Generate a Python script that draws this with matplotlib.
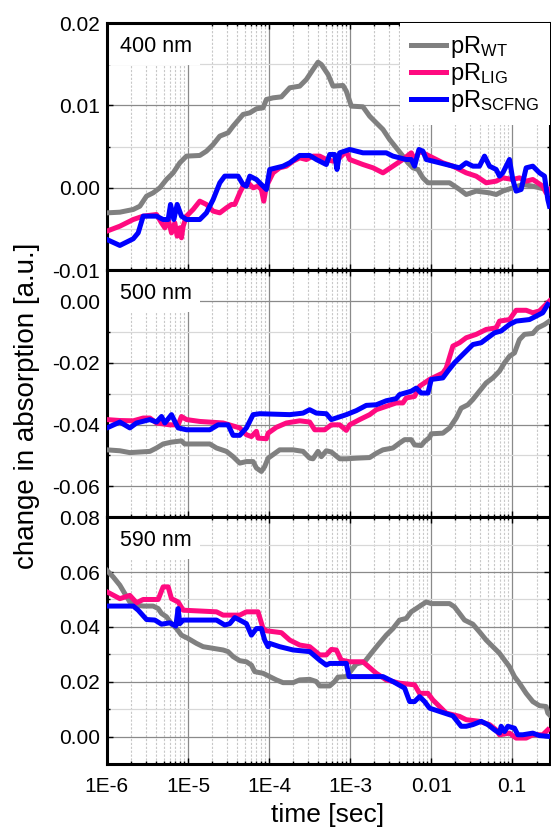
import numpy as np
import matplotlib
matplotlib.use('Agg')
import matplotlib.pyplot as plt
from matplotlib.ticker import FixedLocator, FixedFormatter, MultipleLocator, FormatStrFormatter
from matplotlib.patches import Rectangle

plt.rcParams['font.family'] = ['Liberation Sans', 'DejaVu Sans']
plt.rcParams['mathtext.default'] = 'regular'
plt.rcParams['axes.unicode_minus'] = False

# ---- data: time given as log10(t/sec), change in absorption in a.u. ----
# 400 nm
lt400_wt = [-6.000,-5.840,-5.675,-5.593,-5.511,-5.429,-5.347,-5.265,-5.182,-5.100,-5.018,-4.854,-4.772,-4.689,-4.607,
            -4.505,-4.443,-4.320,-4.237,-4.155,-4.073,-4.032,-3.950,-3.847,-3.744,-3.621,-3.539,-3.457,-3.395,-3.354,
            -3.272,-3.210,-3.087,-3.046,-2.984,-2.841,-2.758,-2.676,-2.594,-2.512,-2.430,-2.348,-2.286,-2.224,-2.163,
            -2.101,-2.039,-1.772,-1.649,-1.567,-1.444,-1.279,-1.197,-1.115,-0.992,-0.869,-0.745,-0.581,-0.540]
a400_wt = [-0.00304,-0.00296,-0.00263,-0.00223,-0.00101,-0.00061,0.0,0.00101,0.00182,0.00304,0.00385,0.00393,0.00445,
           0.00526,0.00628,0.00668,0.00749,0.00891,0.00911,0.00960,0.00972,0.01073,0.01093,0.01105,0.01215,0.01235,
           0.01316,0.01437,0.01526,0.01498,0.01377,0.01235,0.01243,0.01174,0.00992,0.00984,0.00870,0.00789,0.00709,
           0.00587,0.00486,0.00385,0.00304,0.00243,0.00223,0.00121,0.00061,0.00061,-0.00020,-0.00081,-0.00040,
           -0.00061,-0.00081,-0.00040,0.0,0.00040,0.00020,-0.00020,-0.00061]
lt400_lig = [-6.000,-5.840,-5.675,-5.552,-5.388,-5.326,-5.285,-5.244,-5.203,-5.162,-5.133,-5.100,-5.080,-5.059,-5.018,
             -4.936,-4.854,-4.772,-4.689,-4.607,-4.525,-4.463,-4.422,-4.361,-4.320,-4.258,-4.196,-4.135,-4.094,-4.065,
             -4.032,-3.950,-3.868,-3.786,-3.703,-3.621,-3.539,-3.457,-3.375,-3.293,-3.210,-3.128,-3.046,-3.005,-2.841,
             -2.717,-2.594,-2.471,-2.348,-2.245,-2.204,-2.142,-2.019,-1.855,-1.731,-1.567,-1.444,-1.320,-1.197,-1.115,
             -0.992,-0.910,-0.827,-0.745,-0.622,-0.581,-0.540]
a400_lig = [-0.00526,-0.00466,-0.00385,-0.00344,-0.00324,-0.00425,-0.00486,-0.00385,-0.00547,-0.00425,-0.00587,
            -0.00486,-0.00607,-0.00466,-0.00344,-0.00263,-0.00162,-0.00202,-0.00283,-0.00304,-0.00243,-0.00202,
            -0.00202,-0.00061,0.00020,0.00061,0.0,0.00020,-0.00020,-0.00162,0.00020,0.00182,0.00243,0.00263,0.00324,
            0.00364,0.00344,0.00385,0.00385,0.00344,0.00324,0.00364,0.00445,0.00344,0.00283,0.00243,0.00182,0.00263,
            0.00344,0.00425,0.00344,0.00445,0.00385,0.00304,0.00263,0.00182,0.00142,0.00061,0.00081,0.00121,0.00101,
            0.00121,0.00081,0.00101,0.00020,-0.00061,-0.00020]
lt400_scf = [-6.000,-5.840,-5.675,-5.614,-5.552,-5.388,-5.306,-5.244,-5.215,-5.174,-5.133,-5.080,-5.018,-4.854,-4.772,
             -4.689,-4.607,-4.546,-4.381,-4.320,-4.279,-4.237,-4.155,-4.073,-4.032,-3.991,-3.827,-3.744,-3.621,-3.498,
             -3.416,-3.293,-3.251,-3.190,-3.161,-3.128,-3.005,-2.841,-2.553,-2.471,-2.307,-2.245,-2.204,-2.150,-2.101,
             -2.060,-1.896,-1.731,-1.649,-1.567,-1.485,-1.403,-1.341,-1.279,-1.197,-1.156,-1.115,-1.033,-0.992,-0.951,
             -0.889,-0.827,-0.745,-0.663,-0.601,-0.560,-0.540]
a400_scf = [-0.00628,-0.00700,-0.00619,-0.00547,-0.00344,-0.00344,-0.00385,-0.00385,-0.00202,-0.00385,-0.00202,
            -0.00344,-0.00385,-0.00385,-0.00304,-0.00142,0.00061,0.00142,0.00142,0.00040,0.00020,0.00142,0.00101,
            0.00020,-0.00020,0.00223,0.00263,0.00304,0.00393,0.00393,0.00344,0.00283,0.00405,0.00405,0.00223,0.00425,
            0.00466,0.00425,0.00425,0.00385,0.00344,0.00344,0.00263,0.00466,0.00445,0.00344,0.00304,0.00263,0.00243,
            0.00304,0.00263,0.00263,0.00385,0.00263,0.00223,0.00142,0.00182,0.00344,0.00101,-0.00040,-0.00020,
            0.00243,0.00263,0.00182,0.00142,-0.00142,-0.00223]

# 500 nm
lt500_wt = [-6.000,-5.840,-5.717,-5.470,-5.388,-5.306,-5.203,-5.080,-5.039,-4.730,-4.648,-4.525,-4.443,-4.361,-4.279,
            -4.196,-4.155,-4.094,-4.053,-4.011,-3.868,-3.703,-3.580,-3.498,-3.457,-3.395,-3.354,-3.293,-3.231,-3.128,
            -3.046,-2.923,-2.758,-2.676,-2.594,-2.471,-2.389,-2.327,-2.245,-2.204,-2.122,-2.080,-2.019,-1.998,-1.855,
            -1.772,-1.690,-1.629,-1.546,-1.485,-1.403,-1.320,-1.238,-1.156,-1.094,-1.033,-0.971,-0.910,-0.848,-0.745,
            -0.684,-0.601,-0.540]
a500_wt = [-0.0482,-0.0485,-0.0491,-0.0487,-0.0476,-0.0463,-0.0457,-0.0453,-0.0463,-0.0463,-0.0476,-0.0487,-0.0504,
           -0.0525,-0.0520,-0.0520,-0.0541,-0.0552,-0.0536,-0.0509,-0.0482,-0.0482,-0.0487,-0.0509,-0.0511,-0.0487,
           -0.0504,-0.0485,-0.0489,-0.0511,-0.0511,-0.0509,-0.0507,-0.0493,-0.0482,-0.0476,-0.0460,-0.0449,-0.0449,
           -0.0466,-0.0468,-0.0455,-0.0442,-0.0430,-0.0428,-0.0411,-0.0379,-0.0347,-0.0336,-0.0319,-0.0292,-0.0265,
           -0.0249,-0.0227,-0.0200,-0.0179,-0.0168,-0.0125,-0.0108,-0.0105,-0.0087,-0.0076,-0.0065]
lt500_lig = [-6.000,-5.840,-5.675,-5.552,-5.470,-5.388,-5.224,-5.121,-5.080,-5.018,-4.854,-4.566,-4.361,-4.279,-4.217,
             -4.155,-4.135,-4.032,-4.011,-3.909,-3.786,-3.621,-3.498,-3.436,-3.313,-3.231,-3.128,-3.046,-3.005,-2.882,
             -2.758,-2.676,-2.553,-2.430,-2.348,-2.307,-2.204,-2.142,-2.019,-1.855,-1.813,-1.731,-1.649,-1.567,-1.444,
             -1.320,-1.197,-1.156,-1.033,-0.951,-0.827,-0.745,-0.663,-0.581,-0.540]
a500_lig = [-0.0384,-0.0387,-0.0388,-0.0379,-0.0379,-0.0395,-0.0401,-0.0401,-0.0374,-0.0384,-0.0390,-0.0395,-0.0411,
            -0.0433,-0.0439,-0.0422,-0.0444,-0.0446,-0.0428,-0.0409,-0.0395,-0.0388,-0.0392,-0.0417,-0.0417,-0.0401,
            -0.0401,-0.0419,-0.0401,-0.0384,-0.0368,-0.0352,-0.0341,-0.0330,-0.0330,-0.0314,-0.0309,-0.0276,-0.0254,
            -0.0233,-0.0217,-0.0146,-0.0135,-0.0119,-0.0108,-0.0092,-0.0087,-0.0065,-0.0060,-0.0030,-0.0030,-0.0038,
            -0.0032,-0.0011,0.0]
lt500_scf = [-6.000,-5.840,-5.717,-5.634,-5.470,-5.388,-5.326,-5.285,-5.203,-5.162,-5.121,-5.018,-4.730,-4.628,-4.505,
             -4.443,-4.361,-4.279,-4.196,-4.114,-3.744,-3.580,-3.498,-3.416,-3.293,-3.231,-3.046,-2.923,-2.800,-2.676,
             -2.553,-2.430,-2.389,-2.245,-2.183,-2.122,-2.039,-1.998,-1.855,-1.793,-1.711,-1.608,-1.485,-1.382,-1.300,
             -1.218,-1.136,-1.033,-0.951,-0.786,-0.704,-0.622,-0.560]
a500_scf = [-0.0411,-0.0392,-0.0411,-0.0395,-0.0384,-0.0392,-0.0374,-0.0395,-0.0368,-0.0390,-0.0411,-0.0417,-0.0417,
            -0.0401,-0.0401,-0.0435,-0.0435,-0.0411,-0.0368,-0.0365,-0.0368,-0.0363,-0.0352,-0.0363,-0.0365,-0.0384,
            -0.0368,-0.0355,-0.0338,-0.0336,-0.0323,-0.0316,-0.0303,-0.0292,-0.0282,-0.0298,-0.0298,-0.0254,-0.0249,
            -0.0227,-0.0200,-0.0173,-0.0141,-0.0135,-0.0119,-0.0103,-0.0097,-0.0076,-0.0065,-0.0060,-0.0049,-0.0038,
            -0.0011]

# 590 nm
lt590_wt = [-6.000,-5.922,-5.840,-5.778,-5.717,-5.634,-5.552,-5.429,-5.367,-5.326,-5.265,-5.203,-5.141,-5.080,-4.998,
            -4.895,-4.813,-4.689,-4.566,-4.505,-4.443,-4.361,-4.279,-4.217,-4.176,-4.073,-3.991,-3.909,-3.827,-3.703,
            -3.621,-3.498,-3.416,-3.375,-3.251,-3.190,-3.149,-3.046,-2.923,-2.820,-2.738,-2.656,-2.553,-2.471,-2.389,
            -2.307,-2.245,-2.183,-2.122,-2.060,-1.998,-1.772,-1.711,-1.649,-1.588,-1.485,-1.403,-1.320,-1.238,-1.156,
            -1.094,-1.033,-0.971,-0.910,-0.827,-0.745,-0.663,-0.581,-0.560,-0.540]
a590_wt = [0.0606,0.0582,0.0552,0.0521,0.0491,0.0479,0.0476,0.0476,0.0467,0.0449,0.0437,0.0412,0.0394,0.0370,0.0358,
           0.0340,0.0328,0.0322,0.0316,0.0310,0.0292,0.0277,0.0273,0.0261,0.0237,0.0231,0.0219,0.0207,0.0197,0.0197,
           0.0207,0.0209,0.0201,0.0185,0.0185,0.0201,0.0217,0.0219,0.0265,0.0273,0.0304,0.0334,0.0370,0.0394,0.0425,
           0.0431,0.0455,0.0467,0.0479,0.0491,0.0485,0.0485,0.0473,0.0449,0.0425,0.0410,0.0382,0.0352,0.0328,0.0304,
           0.0279,0.0255,0.0219,0.0195,0.0158,0.0128,0.0113,0.0110,0.0086,0.0080]
lt590_lig = [-6.000,-5.840,-5.717,-5.634,-5.552,-5.367,-5.306,-5.244,-5.203,-5.121,-5.059,-4.648,-4.566,-4.361,-4.279,
             -4.135,-4.073,-4.032,-3.847,-3.744,-3.621,-3.498,-3.375,-3.293,-3.231,-3.169,-3.108,-3.005,-2.841,-2.676,
             -2.553,-2.389,-2.204,-2.142,-2.039,-1.978,-1.813,-1.649,-1.567,-1.403,-1.279,-1.197,-1.156,-1.033,-0.951,
             -0.827,-0.745,-0.622,-0.560]
a590_lig = [0.0528,0.0503,0.0515,0.0488,0.0500,0.0500,0.0546,0.0546,0.0503,0.0491,0.0461,0.0455,0.0443,0.0443,0.0455,
            0.0455,0.0394,0.0386,0.0379,0.0352,0.0334,0.0328,0.0298,0.0298,0.0318,0.0316,0.0279,0.0273,0.0273,0.0231,
            0.0207,0.0195,0.0189,0.0158,0.0158,0.0134,0.0086,0.0074,0.0062,0.0056,0.0044,0.0025,0.0007,0.0013,-0.0005,
            -0.0005,0.0007,0.0007,0.0025]
lt590_scf = [-6.000,-5.675,-5.614,-5.511,-5.408,-5.326,-5.224,-5.150,-5.121,-5.100,-5.059,-4.648,-4.546,-4.484,-4.422,
             -4.361,-4.279,-4.217,-4.155,-4.094,-4.053,-4.011,-3.991,-3.868,-3.703,-3.498,-3.375,-3.293,-3.251,-3.128,
             -3.046,-3.013,-2.841,-2.594,-2.471,-2.327,-2.265,-2.204,-2.142,-2.080,-2.019,-1.896,-1.731,-1.629,-1.567,
             -1.485,-1.382,-1.300,-1.218,-1.156,-1.136,-1.094,-1.053,-0.971,-0.930,-0.869,-0.745,-0.663,-0.540]
a590_scf = [0.0476,0.0476,0.0461,0.0427,0.0425,0.0410,0.0415,0.0403,0.0467,0.0412,0.0425,0.0425,0.0407,0.0412,0.0434,
            0.0425,0.0412,0.0370,0.0394,0.0394,0.0352,0.0328,0.0340,0.0328,0.0316,0.0310,0.0279,0.0261,0.0267,0.0267,
            0.0267,0.0219,0.0219,0.0219,0.0201,0.0177,0.0128,0.0128,0.0146,0.0128,0.0104,0.0092,0.0076,0.0038,0.0038,
            0.0044,0.0056,0.0044,0.0025,0.0013,0.0038,0.0019,0.0038,0.0031,0.0007,0.0007,0.0013,0.0004,0.0001]

labels = [r'pR$_{WT}$', r'pR$_{LIG}$', r'pR$_{SCFNG}$']
colors = ['#808080', '#ff0a80', '#0000ff']

panels = [
    ('400 nm', [(lt400_wt, a400_wt), (lt400_lig, a400_lig), (lt400_scf, a400_scf)], (-0.01, 0.02), 0.01),
    ('500 nm', [(lt500_wt, a500_wt), (lt500_lig, a500_lig), (lt500_scf, a500_scf)], (-0.07, 0.01), 0.02),
    ('590 nm', [(lt590_wt, a590_wt), (lt590_lig, a590_lig), (lt590_scf, a590_scf)], (-0.01, 0.08), 0.02),
]

xticks = [1e-6, 1e-5, 1e-4, 1e-3, 1e-2, 1e-1]
xticklabels = ['1E-6', '1E-5', '1E-4', '1E-3', '0.01', '0.1']

fig, axs = plt.subplots(3, 1, sharex=True, figsize=(5.51, 8.27), dpi=100)
fig.subplots_adjust(left=0.194, right=0.9975, top=0.972, bottom=0.076, hspace=0)

for ax, (wl, series, ylim, major) in zip(axs, panels):
    lines = []
    for (lt, a), c, lb in zip(series, colors, labels):
        l, = ax.plot(10**np.array(lt), a, color=c, lw=3.6, label=lb, solid_joinstyle='round', zorder=3)
        lines.append(l)
    ax.set_xscale('log')
    ax.set_xlim(1e-6, 0.29)
    ax.set_ylim(*ylim)
    ax.yaxis.set_major_locator(MultipleLocator(major))
    ax.yaxis.set_minor_locator(MultipleLocator(major / 2))
    ax.yaxis.set_major_formatter(FormatStrFormatter('%.2f'))
    ax.xaxis.set_major_locator(FixedLocator(xticks))
    ax.xaxis.set_major_formatter(FixedFormatter(xticklabels))
    ax.xaxis.set_minor_locator(matplotlib.ticker.LogLocator(base=10, subs=np.arange(2, 10), numticks=20))
    ax.xaxis.set_minor_formatter(matplotlib.ticker.NullFormatter())

    ax.grid(which='major', color='#8a8a8a', lw=0.9)
    ax.grid(which='minor', axis='y', color='#d8d8d8', lw=0.9)
    ax.grid(which='minor', axis='x', color='#c8c8c8', lw=0.8, ls=(0, (2, 1.5)))
    ax.tick_params(which='both', direction='in', top=True, right=True, labelsize=15, width=1)
    ax.tick_params(axis='y', pad=5)
    ax.tick_params(axis='x', pad=9)
    ax.tick_params(which='major', length=4)
    ax.tick_params(which='minor', length=2.5)
    for sp in ax.spines.values():
        sp.set_linewidth(2.2)

    # white box behind the wavelength label
    ax.add_patch(Rectangle((0, 0.83), 0.21, 0.17, transform=ax.transAxes, fc='white', ec='none', zorder=1.8))
    ax.text(0.029, 0.905, wl, transform=ax.transAxes, fontsize=15.5, va='center', ha='left', zorder=4)

axs[0].legend(handles=lines, loc='upper right', fontsize=17, frameon=True, fancybox=False,
              facecolor='white', edgecolor='none', framealpha=1, borderaxespad=0, borderpad=0.45,
              handlelength=1.5, handletextpad=0.15, labelspacing=0.05)
for ax in axs[:2]:
    ax.tick_params(labelbottom=False)

fig.text(0.049, 0.509, 'change in absorption [a.u.]', rotation=90, fontsize=20, va='center', ha='center')
fig.text(0.595, 0.0145, 'time [sec]', fontsize=19, va='center', ha='center')

plt.savefig('out.png', dpi=100)
